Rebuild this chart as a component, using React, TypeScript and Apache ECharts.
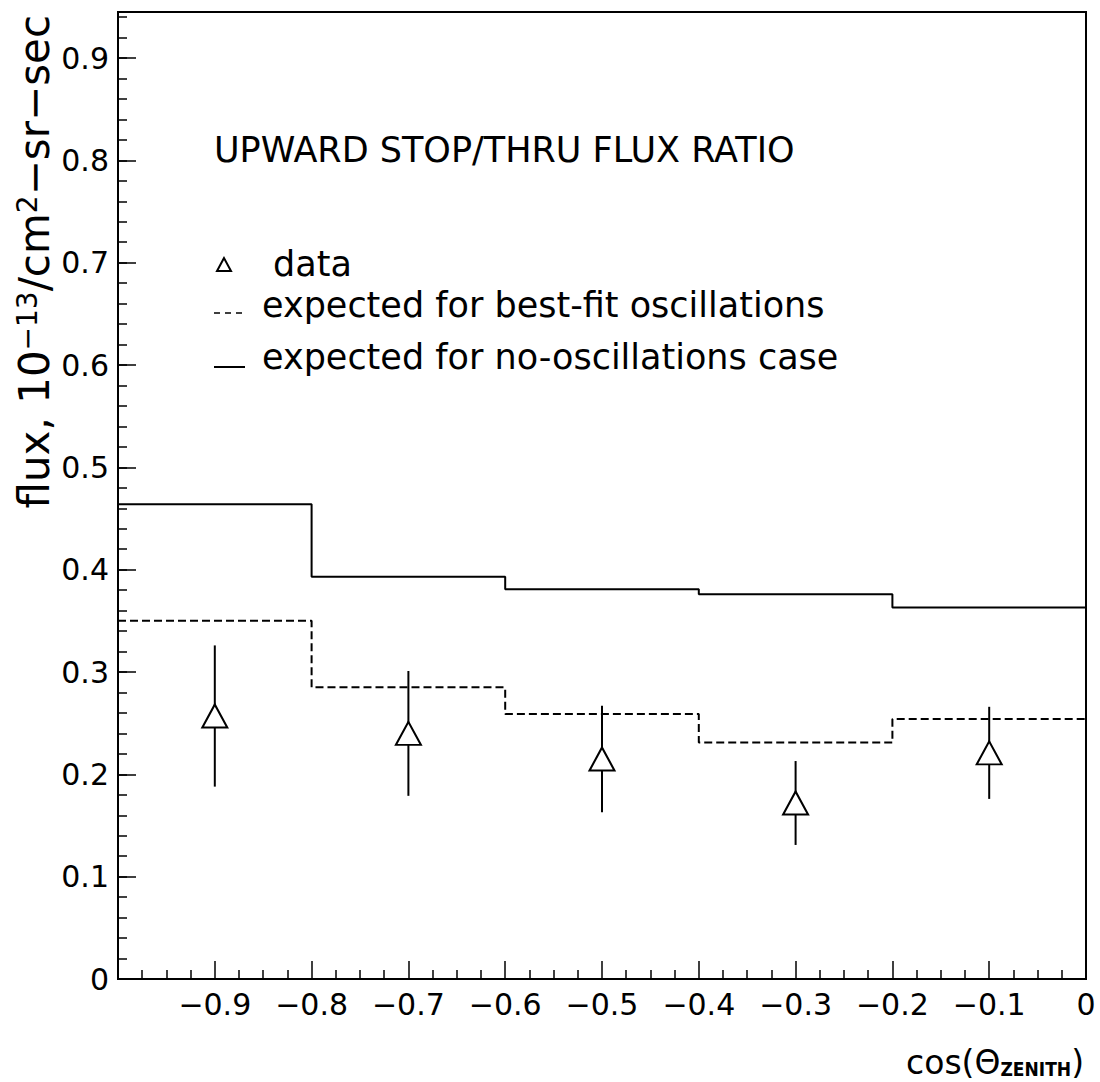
import React, { useEffect, useRef } from "react";
import * as echarts from "echarts";

// ---- data ----
const binEdges = [-1, -0.8, -0.6, -0.4, -0.2, 0];
const noOscFlux = [0.464, 0.393, 0.381, 0.376, 0.363];
const bestFitFlux = [0.35, 0.285, 0.259, 0.231, 0.254];
const dataX = [-0.9, -0.7, -0.5, -0.3, -0.1];
const dataFlux = [0.257, 0.24, 0.215, 0.172, 0.221];
const dataErr = [0.069, 0.061, 0.052, 0.041, 0.045];

const titleText = "UPWARD STOP/THRU FLUX RATIO";
const legendData = "data";
const legendBestFit = "expected for best-fit oscillations";
const legendNoOsc = "expected for no-oscillations case";

const FONT = "'DejaVu Sans', 'Liberation Sans', sans-serif";

function histSteps(edges: number[], vals: number[]) {
  const pts: number[][] = [];
  for (let i = 0; i < vals.length; i++) pts.push([edges[i], vals[i]]);
  pts.push([edges[edges.length - 1], vals[vals.length - 1]]);
  return pts;
}

export default function App() {
  const ref = useRef<HTMLDivElement>(null);
  useEffect(() => {
    document.body.style.margin = "0";
    const chart = echarts.init(ref.current!, null, { renderer: "svg" });
    const black = "#000";
    const gridRect = { left: 118, top: 12, width: 968, height: 967 };
    const option: any = {
      animation: false,
      backgroundColor: "#fff",
      grid: [
        {
          ...gridRect,
          show: true,
          borderColor: black,
          borderWidth: 2,
          backgroundColor: "transparent",
        },
        { ...gridRect, show: false },
      ],
      xAxis: [
        {
          type: "value",
          gridIndex: 0,
          min: -1,
          max: 0,
          interval: 0.1,
          axisLine: { show: true, onZero: false, lineStyle: { color: black, width: 2 } },
          axisTick: { show: true, inside: true, length: 18, lineStyle: { color: black, width: 1.5 } },
          minorTick: { show: true, splitNumber: 4, length: 9, lineStyle: { color: black, width: 1.5 } },
          splitLine: { show: false },
          axisLabel: {
            margin: 10,
            fontSize: 30,
            fontFamily: FONT,
            color: black,
            formatter: (v: number) => {
              if (v < -0.99) return "";
              if (Math.abs(v) < 1e-9) return "0";
              return "−" + Math.abs(v).toFixed(1);
            },
          },
        },
        {
          type: "value",
          gridIndex: 1,
          min: -1,
          max: 0,
          show: false,
        },
      ],
      yAxis: [
        {
          type: "value",
          gridIndex: 0,
          position: "left",
          min: 0,
          max: 0.945,
          interval: 0.1,
          axisLine: { show: true, onZero: false, lineStyle: { color: black, width: 2 } },
          axisTick: { show: true, inside: true, length: 18, lineStyle: { color: black, width: 1.5 } },
          splitLine: { show: false },
          axisLabel: {
            margin: 9,
            fontSize: 30,
            fontFamily: FONT,
            color: black,
            formatter: (v: number) => {
              const r = Math.round(v * 10) / 10;
              if (Math.abs(v - r) > 1e-6) return "";
              return r === 0 ? "0" : r.toFixed(1);
            },
          },
        },
        {
          // minor ticks every 0.02 on the left edge (overlaid grid)
          type: "value",
          gridIndex: 1,
          position: "left",
          min: 0,
          max: 0.945,
          interval: 0.02,
          axisLine: { show: false, onZero: false },
          axisTick: { show: true, inside: true, length: 9, lineStyle: { color: black, width: 1.5 } },
          axisLabel: { show: false },
          splitLine: { show: false },
        },
      ],
      graphic: [
        {
          type: "text",
          x: 214,
          y: 150,
          style: { text: titleText, fontSize: 35, fontFamily: FONT, fill: black, align: "left", verticalAlign: "middle" },
        },
        {
          type: "polygon",
          shape: { points: [[224, 258], [217, 271], [231, 271]] },
          style: { fill: "#fff", stroke: black, lineWidth: 2 },
        },
        {
          type: "text",
          x: 273,
          y: 264,
          style: { text: legendData, fontSize: 35, fontFamily: FONT, fill: black, align: "left", verticalAlign: "middle" },
        },
        {
          type: "line",
          shape: { x1: 214, y1: 313, x2: 245, y2: 313 },
          style: { stroke: black, lineWidth: 1.5, lineDash: [6, 5] },
        },
        {
          type: "text",
          x: 262,
          y: 305,
          style: { text: legendBestFit, fontSize: 35, fontFamily: FONT, fill: black, align: "left", verticalAlign: "middle" },
        },
        {
          type: "line",
          shape: { x1: 214, y1: 367, x2: 245, y2: 367 },
          style: { stroke: black, lineWidth: 2 },
        },
        {
          type: "text",
          x: 262,
          y: 357,
          style: { text: legendNoOsc, fontSize: 35, fontFamily: FONT, fill: black, align: "left", verticalAlign: "middle" },
        },
        {
          type: "text",
          x: 34,
          y: 15,
          rotation: Math.PI / 2,
          style: {
            text: "{a|flux, 10}{s|−13}{a|/cm}{s|2}{a|−sr−sec}",
            align: "right",
            verticalAlign: "middle",
            fill: black,
            rich: {
              a: { fontSize: 42, fontFamily: FONT, fill: black },
              s: { fontSize: 28, fontFamily: FONT, fill: black, verticalAlign: "top", padding: [0, 0, 8, 0] },
            },
          },
        },
        {
          type: "text",
          x: 1084,
          y: 1062,
          style: {
            text: "{a|cos(Θ}{b|ZENITH}{a|)}",
            align: "right",
            verticalAlign: "middle",
            fill: black,
            rich: {
              a: { fontSize: 33, fontFamily: FONT, fill: black },
              b: {
                fontSize: 19,
                fontWeight: "bold",
                fontFamily: "'Liberation Sans Narrow', 'DejaVu Sans Condensed', 'Liberation Sans', sans-serif",
                fill: black,
                verticalAlign: "bottom",
                padding: [14, 0, 0, 0],
              },
            },
          },
        },
      ],
      series: [
        {
          name: "no-oscillations",
          type: "line",
          step: "end",
          data: histSteps(binEdges, noOscFlux),
          showSymbol: false,
          symbol: "none",
          lineStyle: { color: black, width: 2 },
          z: 3,
        },
        {
          name: "best-fit",
          type: "line",
          step: "end",
          data: histSteps(binEdges, bestFitFlux),
          showSymbol: false,
          symbol: "none",
          lineStyle: { color: black, width: 2, type: [8, 4] },
          z: 3,
        },
        {
          name: "errors",
          type: "custom",
          data: dataX.map((x, i) => [x, dataFlux[i], dataErr[i]]),
          encode: { x: 0, y: 1 },
          renderItem: (params: any, api: any) => {
            const x = api.value(0);
            const y = api.value(1);
            const e = api.value(2);
            const p1 = api.coord([x, y + e]);
            const p2 = api.coord([x, y - e]);
            return {
              type: "line",
              shape: { x1: p1[0], y1: p1[1], x2: p2[0], y2: p2[1] },
              style: { stroke: black, lineWidth: 2 },
            };
          },
          z: 4,
        },
        {
          name: "data",
          type: "scatter",
          data: dataX.map((x, i) => [x, dataFlux[i]]),
          symbol: "triangle",
          symbolSize: [25, 23],
          itemStyle: { color: "#fff", borderColor: black, borderWidth: 2, opacity: 1 },
          z: 5,
        },
      ],
    };
    chart.setOption(option);
    return () => chart.dispose();
  }, []);
  return <div ref={ref} style={{ width: 1100, height: 1082 }} />;
}
